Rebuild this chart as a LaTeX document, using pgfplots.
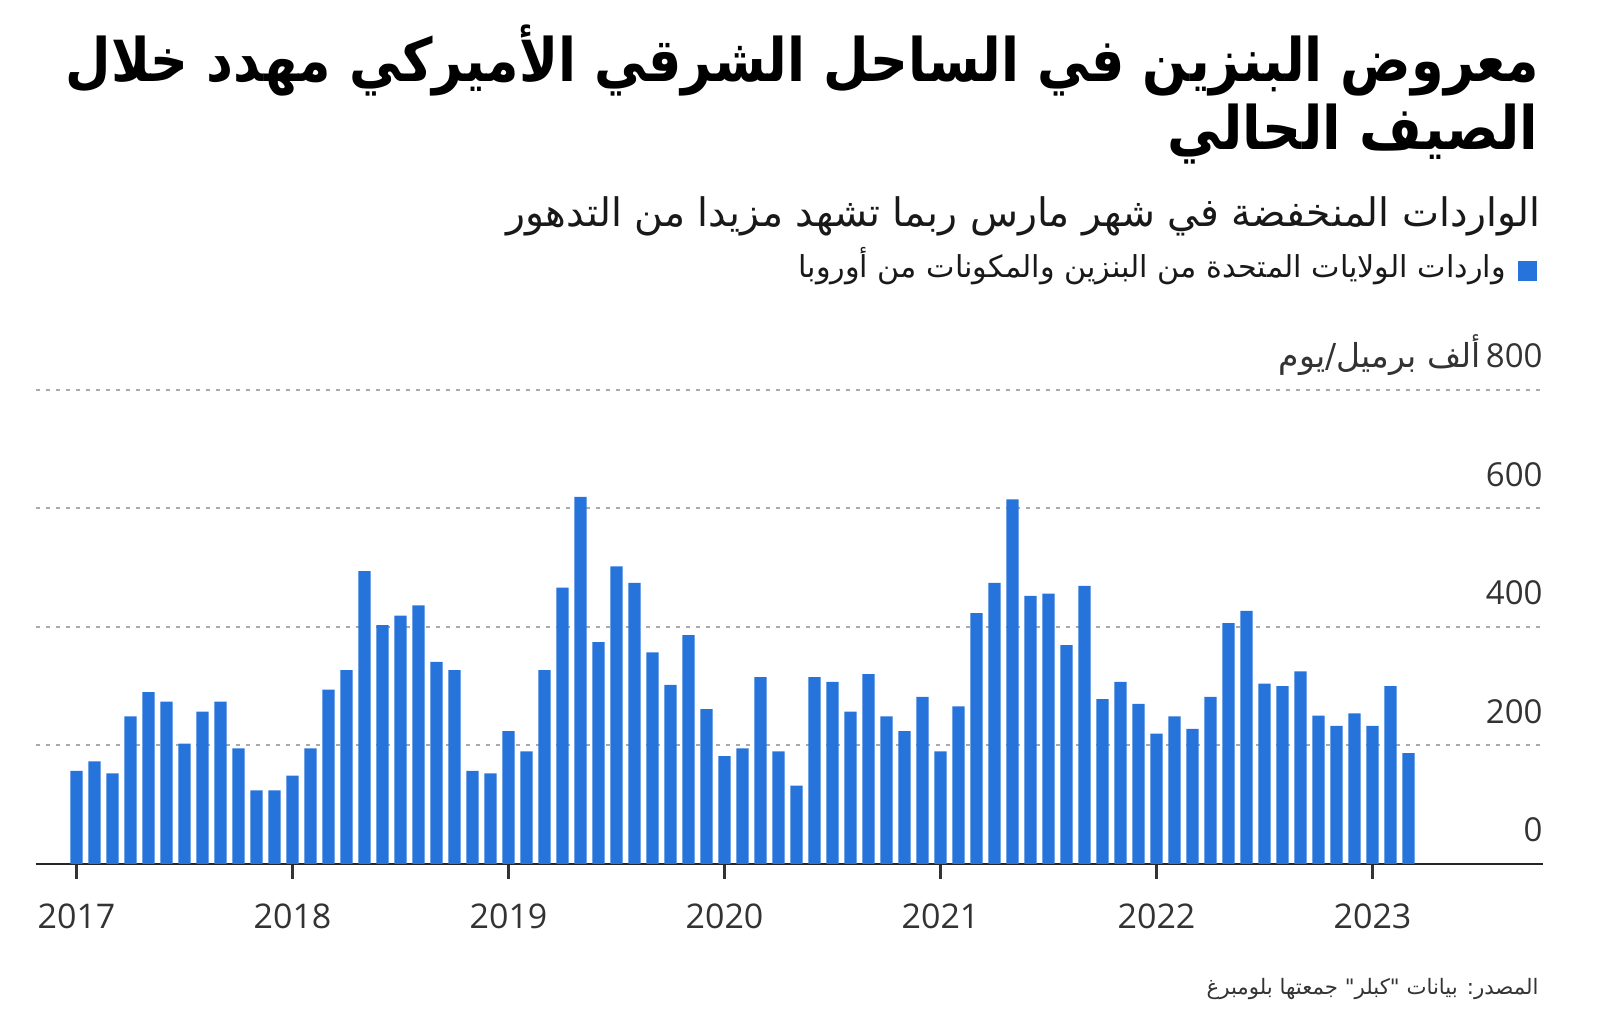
\documentclass[border=0pt]{standalone}
\usepackage{fontspec}
\usepackage{graphicx}
\usepackage{pgfplots}
\pgfplotsset{compat=1.18}
\setmainfont{Open Sans}
\newfontfamily\arabicfont[Script=Arabic]{DejaVu Sans}
\TeXXeTstate=1
\definecolor{barblue}{HTML}{2673DC}
\definecolor{txt}{HTML}{333333}
\definecolor{gridc}{HTML}{AAAAAA}

\pgfplotstableread{
m v
0 157
1 173
2 153
3 249
4 290
5 274
6 203
7 257
8 274
9 195
10 124
11 124
12 149
13 195
14 294
15 327
16 494
17 403
18 419
19 436
20 341
21 327
22 157
23 153
24 224
25 190
26 327
27 466
28 619
29 374
30 502
31 474
32 357
33 302
34 386
35 261
36 182
37 195
38 315
39 190
40 132
41 315
42 307
43 257
44 320
45 249
46 224
47 282
48 190
49 266
50 423
51 474
52 615
53 452
54 456
55 369
56 469
57 278
58 307
59 270
60 220
61 249
62 228
63 282
64 406
65 427
66 304
67 300
68 325
69 250
70 233
71 254
72 233
73 300
74 187
}\imports

\begin{document}
\begin{tikzpicture}[x=0.5pt,y=0.5pt]
\useasboundingbox (0,0) rectangle (1600,1021);
\begin{axis}[
  at={(38.25pt,78.5pt)}, anchor=origin,
  scale only axis, width=753.65pt, height=237.2pt,
  xmin=-2.27, xmax=81.47, ymin=0, ymax=800,
  axis x line*=bottom, axis y line*=right,
  x axis line style={-, line width=1pt, color=black!85},
  y axis line style={draw=none},
  xtick={0,12,24,36,48,60,72},
  xticklabels={2017,2018,2019,2020,2021,2022,2023},
  xtick align=outside, ytick align=inside,
  xtick style={line width=1.2pt, color=black!80},
  major tick length=7.5pt,
  ytick={0,200,400,600,800},
  yticklabels={0,200,400,600,{{\arabicfont\beginR ألف برميل/يوم\endR}\,800}},
  ytick style={draw=none},
  ymajorgrids,
  grid style={line width=1pt, color=gridc, dash pattern=on 2pt off 3pt},
  yticklabel style={anchor=base east, inner sep=0pt, yshift=11pt, xshift=0pt, font=\fontsize{16.5}{18}\selectfont, text=txt},
  xticklabel style={anchor=north, inner sep=0pt, yshift=-12pt, font=\fontsize{17}{18}\selectfont, text=txt},
  clip=false,
]
\addplot[ybar, bar width=0.68, fill=barblue, draw=none] table[x=m, y=v] {\imports};
\end{axis}
% title
\node[anchor=base east, inner sep=0pt] at (1539,939)
  {\resizebox{736.5pt}{\height}{\arabicfont\bfseries\fontsize{30}{34}\selectfont\beginR معروض البنزين في الساحل الشرقي الأميركي مهدد خلال\endR}};
\node[anchor=base east, inner sep=0pt] at (1539,871)
  {\resizebox{185.5pt}{\height}{\arabicfont\bfseries\fontsize{30}{34}\selectfont\beginR الصيف الحالي\endR}};
% subtitle
\node[anchor=base east, inner sep=0pt, text=black!90] at (1541,794.5)
  {\resizebox{517pt}{!}{\arabicfont\fontsize{20}{24}\selectfont\beginR الواردات المنخفضة في شهر مارس ربما تشهد مزيدا من التدهور\endR}};
% legend
\fill[barblue] (1518,740) rectangle (1537,760);
\node[anchor=base east, inner sep=0pt, text=black!90] at (1506,743)
  {\resizebox{353.5pt}{!}{\arabicfont\fontsize{15}{17}\selectfont\beginR واردات الولايات المتحدة من البنزين والمكونات من أوروبا\endR}};
% source
\node[anchor=base east, inner sep=0pt, text=txt] at (1539,26)
  {\resizebox{166pt}{!}{\arabicfont\fontsize{11}{13}\selectfont\beginR المصدر: بيانات "كبلر" جمعتها بلومبرغ\endR}};
\end{tikzpicture}
\end{document}
